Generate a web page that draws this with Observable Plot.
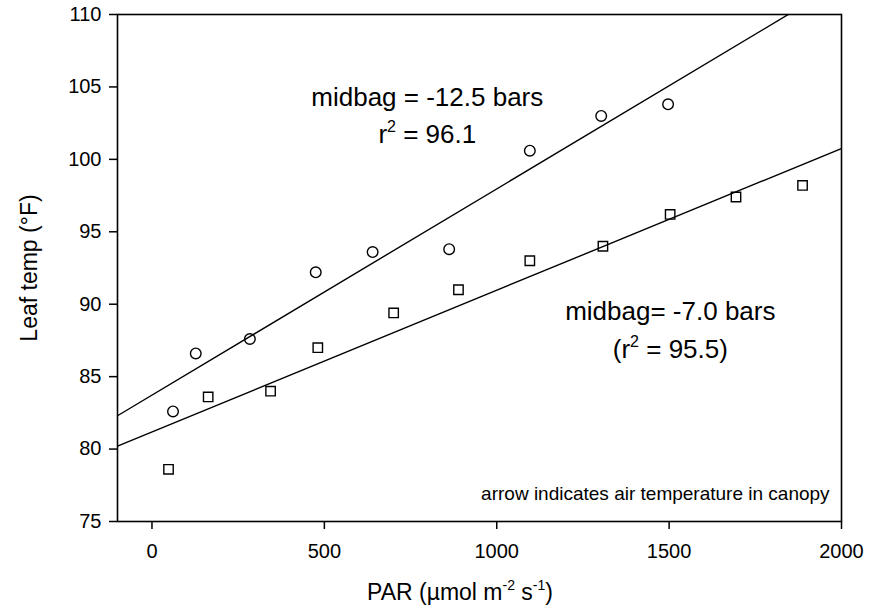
<!DOCTYPE html>
<html>
<head>
<meta charset="utf-8">
<script src="https://cdn.jsdelivr.net/npm/d3@7"></script>
<script src="https://cdn.jsdelivr.net/npm/@observablehq/plot@0.6"></script>
<style>
  html, body { margin: 0; padding: 0; background: #fff; }
  #chart svg { display: block; }
</style>
</head>
<body>
<div id="chart"></div>
<script>
// ---- data ----
const circleX = [61, 127, 284, 475, 640, 862, 1096, 1303, 1497];
const circleY = [82.6, 86.6, 87.6, 92.2, 93.6, 93.8, 100.6, 103.0, 103.8];
const squareX = [48, 163, 344, 481, 701, 889, 1096, 1308, 1503, 1694, 1887];
const squareY = [78.6, 83.6, 84.0, 87.0, 89.4, 91.0, 93.0, 94.0, 96.2, 97.4, 98.2];
// regression line end points
const fitX = [-100, 2000];
const fitUpperY = [82.3, 112.2];
const fitLowerY = [80.2, 100.75];
// ticks
const xTicks = [0, 500, 1000, 1500, 2000];
const yTicks = [75, 80, 85, 90, 95, 100, 105, 110];
// annotation texts
const upperLabel = ["midbag = -12.5 bars", "96.1"];
const lowerLabel = ["midbag= -7.0 bars", "95.5"];
const noteText = "arrow indicates air temperature in canopy";

const circles = circleX.map((x, i) => ({x, y: circleY[i]}));
const squares = squareX.map((x, i) => ({x, y: squareY[i]}));
const upperFit = fitX.map((x, i) => ({x, y: fitUpperY[i]}));
const lowerFit = fitX.map((x, i) => ({x, y: fitLowerY[i]}));

const FONT = "'Liberation Sans', Arial, Helvetica, sans-serif";

const chart = Plot.plot({
  width: 881,
  height: 608,
  marginLeft: 117,
  marginRight: 40,
  marginTop: 14,
  marginBottom: 87,
  style: {fontFamily: FONT, fontSize: "20px", color: "#000", background: "#fff", overflow: "visible"},
  x: {domain: [-100, 2000]},
  y: {domain: [75, 110]},
  marks: [
    Plot.axisX({ticks: xTicks, tickFormat: d => String(d), tickSize: 8, tickPadding: 14, label: null, strokeWidth: 1.5}),
    Plot.axisY({ticks: yTicks, tickFormat: d => String(d), tickSize: 8, tickPadding: 8, label: null, strokeWidth: 1.5}),
    Plot.frame({stroke: "#000", strokeWidth: 1.6}),
    Plot.line(upperFit, {x: "x", y: "y", clip: true, stroke: "#000", strokeWidth: 1.4}),
    Plot.line(lowerFit, {x: "x", y: "y", clip: true, stroke: "#000", strokeWidth: 1.4}),
    Plot.dot(circles, {x: "x", y: "y", r: 5.3, stroke: "#000", strokeWidth: 1.4, fill: "none"}),
    Plot.dot(squares, {x: "x", y: "y", symbol: "square", r: 5.3, stroke: "#000", strokeWidth: 1.4, fill: "none"})
  ]
});
document.getElementById("chart").appendChild(chart);

const sx = chart.scale("x");
const sy = chart.scale("y");
const svg = d3.select(chart);

// helper: write text made of parts; parts with sup:true are raised
function richText(g, parts, size) {
  const supSize = Math.round(size * 0.62);
  const shift = Math.round(size * 0.42);
  parts.forEach(p => {
    if (p.sup) {
      g.append("tspan").attr("font-size", supSize).attr("dy", -shift).text(p.t);
    } else {
      const ts = g.append("tspan").text(p.t);
      if (p.after) ts.attr("dy", shift);
    }
  });
}

const ann = svg.append("g").attr("font-family", FONT).attr("fill", "#000");

// upper annotation
ann.append("text").attr("x", sx.apply(800)).attr("y", sy.apply(103.68))
  .attr("text-anchor", "middle").attr("font-size", 26).text(upperLabel[0]);
richText(ann.append("text").attr("x", sx.apply(800)).attr("y", sy.apply(101.12))
  .attr("text-anchor", "middle").attr("font-size", 26),
  [{t: "r"}, {t: "2", sup: true}, {t: " = " + upperLabel[1], after: true}], 26);

// lower annotation
ann.append("text").attr("x", sx.apply(1505)).attr("y", sy.apply(88.87))
  .attr("text-anchor", "middle").attr("font-size", 26).text(lowerLabel[0]);
richText(ann.append("text").attr("x", sx.apply(1505)).attr("y", sy.apply(86.24))
  .attr("text-anchor", "middle").attr("font-size", 26),
  [{t: "(r"}, {t: "2", sup: true}, {t: " = " + lowerLabel[1] + ")", after: true}], 26);

// note
ann.append("text").attr("x", sx.apply(1967)).attr("y", sy.apply(76.43))
  .attr("text-anchor", "end").attr("font-size", 19).text(noteText);

// axis titles
richText(ann.append("text").attr("x", 460).attr("y", 600)
  .attr("text-anchor", "middle").attr("font-size", 23),
  [{t: "PAR (µmol m"}, {t: "-2", sup: true}, {t: " s", after: true}, {t: "-1", sup: true}, {t: ")", after: true}], 23);

ann.append("text").attr("transform", "translate(37,268) rotate(-90)")
  .attr("text-anchor", "middle").attr("font-size", 23).text("Leaf temp (°F)");
</script>
</body>
</html>
